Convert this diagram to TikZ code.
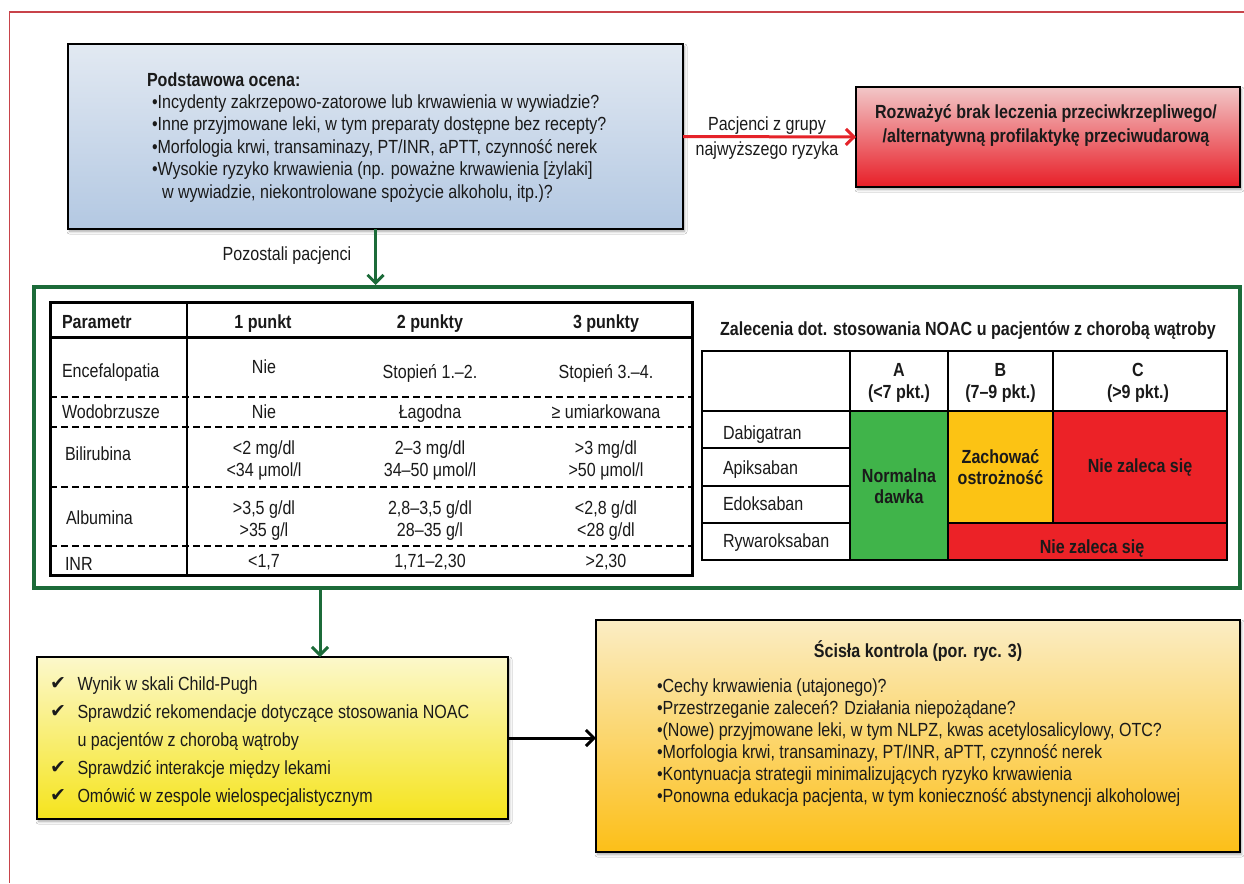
\documentclass[tikz,border=0pt]{standalone}
\usepackage{fontspec}
\setmainfont{Liberation Sans}[FakeStretch=0.845]
\newfontfamily\checkfont{DejaVu Sans}
\usetikzlibrary{arrows.meta,shadows.blur}

\definecolor{frameRed}{HTML}{C8434A}
\definecolor{flowGreen}{HTML}{1C6B39}
\definecolor{alertRed}{HTML}{E52329}
\definecolor{blueTop}{HTML}{E2E9F2}
\definecolor{blueBottom}{HTML}{B3C8E2}
\definecolor{pinkTop}{HTML}{F2C7C8}
\definecolor{pinkMid}{HTML}{EA6468}
\definecolor{redBottom}{HTML}{E81E27}
\definecolor{lemonTop}{HTML}{FCF8CB}
\definecolor{lemonBottom}{HTML}{F5E41C}
\definecolor{amberTop}{HTML}{FBEDC4}
\definecolor{amberBottom}{HTML}{FCBF18}
\definecolor{okGreen}{HTML}{40B44A}
\definecolor{cautionAmber}{HTML}{FCC314}
\definecolor{stopRed}{HTML}{EC2227}
\definecolor{ink}{HTML}{1A1A1A}

\begin{document}
\begin{tikzpicture}[x=1pt,y=-1pt,
  every node/.style={inner sep=0pt,outer sep=0pt,text=ink},
  txt/.style={font=\fontsize{19}{22}\selectfont},
  btxt/.style={font=\fontsize{19}{22}\selectfont\bfseries},
  panel/.style={draw=black,line width=1.4pt,anchor=north west,
    blur shadow={shadow xshift=1.5pt,shadow yshift=-2.5pt,
      shadow blur steps=6,shadow blur radius=2.5pt,shadow opacity=35}},
  flow/.style={line width=3pt,-{Straight Barb[length=8pt,width=16pt]}},
  grid/.style={line width=2.2pt},
  cpline/.style={line width=2pt,dash pattern=on 7pt off 4pt},
  tick/.style={font=\fontsize{19}{22}\checkfont,anchor=base west},
]
\useasboundingbox (0,0) rectangle (1244,883);
\fill[white] (0,0) rectangle (1244,883);

% page frame
\draw[frameRed,line width=1.3pt] (1244,12) -- (9.5,12) -- (9.5,883);

% ---------- boxes ----------
\node[panel,top color=blueTop,bottom color=blueBottom,
      minimum width=615pt,minimum height=185pt] (basic) at (68,44) {};
\node[panel,top color=pinkTop,middle color=pinkMid,bottom color=redBottom,
      minimum width=384pt,minimum height=100pt] (avoid) at (856,87) {};
\node[draw=flowGreen,line width=4.5pt,anchor=north west,
      minimum width=1206pt,minimum height=301pt] (assess) at (34,287) {};
\node[panel,top color=lemonTop,bottom color=lemonBottom,
      minimum width=471pt,minimum height=162pt] (todo) at (37,657) {};
\node[panel,top color=amberTop,bottom color=amberBottom,
      minimum width=644pt,minimum height=232pt] (monitor) at (596,620) {};

% ---------- connectors ----------
\coordinate (split) at (320,600);
\draw[flow,alertRed] (basic.east) -- (avoid.west);
\draw[flow,flowGreen,shorten >=2pt] (basic.south) -- (basic.south |- assess.north);
\draw[flow,flowGreen] (assess.south -| split) -- (todo.north -| split);
\draw[flow,black] (todo.east) -- (todo.east -| monitor.west);

\node[txt,anchor=base] (risk-a) at (767,130) {Pacjenci z grupy};
\node[txt,anchor=base] (risk-b) at (767,155) {najwyższego ryzyka};
\node[txt,anchor=base] (others) at (287,260) {Pozostali pacjenci};

% ---------- basic assessment ----------
\node[btxt,anchor=base west] (basic-h) at (147,86) {Podstawowa ocena:};
\node[txt,anchor=base west] (basic-1) at (152,108.4) {•Incydenty zakrzepowo-zatorowe lub krwawienia w wywiadzie?};
\node[txt,anchor=base west] (basic-2) at (152,130.8) {•Inne przyjmowane leki, w tym preparaty dostępne bez recepty?};
\node[txt,anchor=base west] (basic-3) at (152,153.2) {•Morfologia krwi, transaminazy, PT/INR, aPTT, czynność nerek};
\node[txt,anchor=base west] (basic-4) at (152,175.6) {•Wysokie ryzyko krwawienia (np. poważne krwawienia [żylaki]};
\node[txt,anchor=base west] (basic-5) at (162,198) {w wywiadzie, niekontrolowane spożycie alkoholu, itp.)?};

% ---------- high-risk box ----------
\node[btxt,anchor=base] (avoid-1) at (1046,118) {Rozważyć brak leczenia przeciwkrzepliwego/};
\node[btxt,anchor=base] (avoid-2) at (1046,142) {/alternatywną profilaktykę przeciwudarową};

% ---------- Child-Pugh table ----------
\draw[line width=3pt] (50,302) rectangle (692,575);
\draw[line width=3pt] (50,337) -- (692,337);
\draw[line width=2.2pt] (187,302) -- (187,575);
\draw[cpline] (50,397) -- (692,397) (50,427) -- (692,427)
              (50,487) -- (692,487) (50,546) -- (692,546);

\node[btxt,anchor=base west] (cp-h0) at (62,328.5) {Parametr};
\node[btxt,anchor=base] (cp-h1) at (263,328.5) {1 punkt};
\node[btxt,anchor=base] (cp-h2) at (430,328.5) {2 punkty};
\node[btxt,anchor=base] (cp-h3) at (606,328.5) {3 punkty};

\node[txt,anchor=base west] (cp-enc) at (62,377.5) {Encefalopatia};
\node[txt,anchor=base] (cp-enc1) at (264,373) {Nie};
\node[txt,anchor=base] (cp-enc2) at (430,378.5) {Stopień 1.–2.};
\node[txt,anchor=base] (cp-enc3) at (606,378.5) {Stopień 3.–4.};

\node[txt,anchor=base west] (cp-asc) at (62,418.5) {Wodobrzusze};
\node[txt,anchor=base] (cp-asc1) at (264,418.5) {Nie};
\node[txt,anchor=base] (cp-asc2) at (430,418.5) {Łagodna};
\node[txt,anchor=base] (cp-asc3) at (606,418.5) {≥ umiarkowana};

\node[txt,anchor=base west] (cp-bil) at (65,460) {Bilirubina};
\node[txt,anchor=base] (cp-bil1a) at (264,454.5) {<2 mg/dl};
\node[txt,anchor=base] (cp-bil1b) at (264,476.5) {<34 μmol/l};
\node[txt,anchor=base] (cp-bil2a) at (430,454.5) {2–3 mg/dl};
\node[txt,anchor=base] (cp-bil2b) at (430,476.5) {34–50 μmol/l};
\node[txt,anchor=base] (cp-bil3a) at (606,454.5) {>3 mg/dl};
\node[txt,anchor=base] (cp-bil3b) at (606,476.5) {>50 μmol/l};

\node[txt,anchor=base west] (cp-alb) at (66,524) {Albumina};
\node[txt,anchor=base] (cp-alb1a) at (264,514.5) {>3,5 g/dl};
\node[txt,anchor=base] (cp-alb1b) at (264,536.5) {>35 g/l};
\node[txt,anchor=base] (cp-alb2a) at (430,514.5) {2,8–3,5 g/dl};
\node[txt,anchor=base] (cp-alb2b) at (430,536.5) {28–35 g/l};
\node[txt,anchor=base] (cp-alb3a) at (606,514.5) {<2,8 g/dl};
\node[txt,anchor=base] (cp-alb3b) at (606,536.5) {<28 g/dl};

\node[txt,anchor=base west] (cp-inr) at (65,570) {INR};
\node[txt,anchor=base] (cp-inr1) at (264,567) {<1,7};
\node[txt,anchor=base] (cp-inr2) at (430,567) {1,71–2,30};
\node[txt,anchor=base] (cp-inr3) at (606,567) {>2,30};

% ---------- NOAC recommendations ----------
\node[btxt,anchor=base] (noac-title) at (968,335) {Zalecenia dot. stosowania NOAC u pacjentów z chorobą wątroby};

\fill[okGreen] (850,411) rectangle (948,560);
\fill[cautionAmber] (948,411) rectangle (1053,523);
\fill[stopRed] (1053,411) rectangle (1227,523);
\fill[stopRed] (948,523) rectangle (1227,560);
\draw[grid] (702,351) rectangle (1227,560);
\draw[grid] (702,411) -- (1227,411);
\draw[grid] (850,351) -- (850,560) (948,351) -- (948,560) (1053,351) -- (1053,523);
\draw[grid] (702,448) -- (850,448) (702,486) -- (850,486)
            (702,523) -- (850,523) (948,523) -- (1227,523);

\node[btxt,anchor=base] (noac-a) at (899,376) {A};
\node[btxt,anchor=base] (noac-a2) at (899,398.5) {(<7 pkt.)};
\node[btxt,anchor=base] (noac-b) at (1000.5,376) {B};
\node[btxt,anchor=base] (noac-b2) at (1000.5,398.5) {(7–9 pkt.)};
\node[btxt,anchor=base] (noac-c) at (1138,376) {C};
\node[btxt,anchor=base] (noac-c2) at (1138,398.5) {(>9 pkt.)};

\node[txt,anchor=base west] (drug-1) at (723,439.5) {Dabigatran};
\node[txt,anchor=base west] (drug-2) at (723,474) {Apiksaban};
\node[txt,anchor=base west] (drug-3) at (723,510.5) {Edoksaban};
\node[txt,anchor=base west] (drug-4) at (723,547.5) {Rywaroksaban};

\node[btxt,anchor=base] (dose-a1) at (899,482.5) {Normalna};
\node[btxt,anchor=base] (dose-a2) at (899,503.5) {dawka};
\node[btxt,anchor=base] (dose-b1) at (1000.5,463.5) {Zachować};
\node[btxt,anchor=base] (dose-b2) at (1000.5,484.5) {ostrożność};
\node[btxt,anchor=base] (dose-c) at (1140,472.5) {Nie zaleca się};
\node[btxt,anchor=base] (dose-r) at (1092,553) {Nie zaleca się};

% ---------- follow-up checklist ----------
\node[tick] (tick-1) at (50,689) {✔};
\node[tick] (tick-2) at (50,717) {✔};
\node[tick] (tick-4) at (50,773) {✔};
\node[tick] (tick-5) at (50,801) {✔};
\node[txt,anchor=base west] (todo-1) at (77.5,690) {Wynik w skali Child-Pugh};
\node[txt,anchor=base west] (todo-2) at (77.5,718) {Sprawdzić rekomendacje dotyczące stosowania NOAC};
\node[txt,anchor=base west] (todo-3) at (77.5,746) {u pacjentów z chorobą wątroby};
\node[txt,anchor=base west] (todo-4) at (77.5,774) {Sprawdzić interakcje między lekami};
\node[txt,anchor=base west] (todo-5) at (77.5,802) {Omówić w zespole wielospecjalistycznym};

% ---------- close monitoring ----------
\node[btxt,anchor=base] (mon-h) at (918,657) {Ścisła kontrola (por. ryc. 3)};
\node[txt,anchor=base west] (mon-1) at (657,692.5) {•Cechy krwawienia (utajonego)?};
\node[txt,anchor=base west] (mon-2) at (657,714.5) {•Przestrzeganie zaleceń? Działania niepożądane?};
\node[txt,anchor=base west] (mon-3) at (657,736.5) {•(Nowe) przyjmowane leki, w tym NLPZ, kwas acetylosalicylowy, OTC?};
\node[txt,anchor=base west] (mon-4) at (657,758.5) {•Morfologia krwi, transaminazy, PT/INR, aPTT, czynność nerek};
\node[txt,anchor=base west] (mon-5) at (657,780.5) {•Kontynuacja strategii minimalizujących ryzyko krwawienia};
\node[txt,anchor=base west] (mon-6) at (657,802.5) {•Ponowna edukacja pacjenta, w tym konieczność abstynencji alkoholowej};
\end{tikzpicture}
\end{document}
